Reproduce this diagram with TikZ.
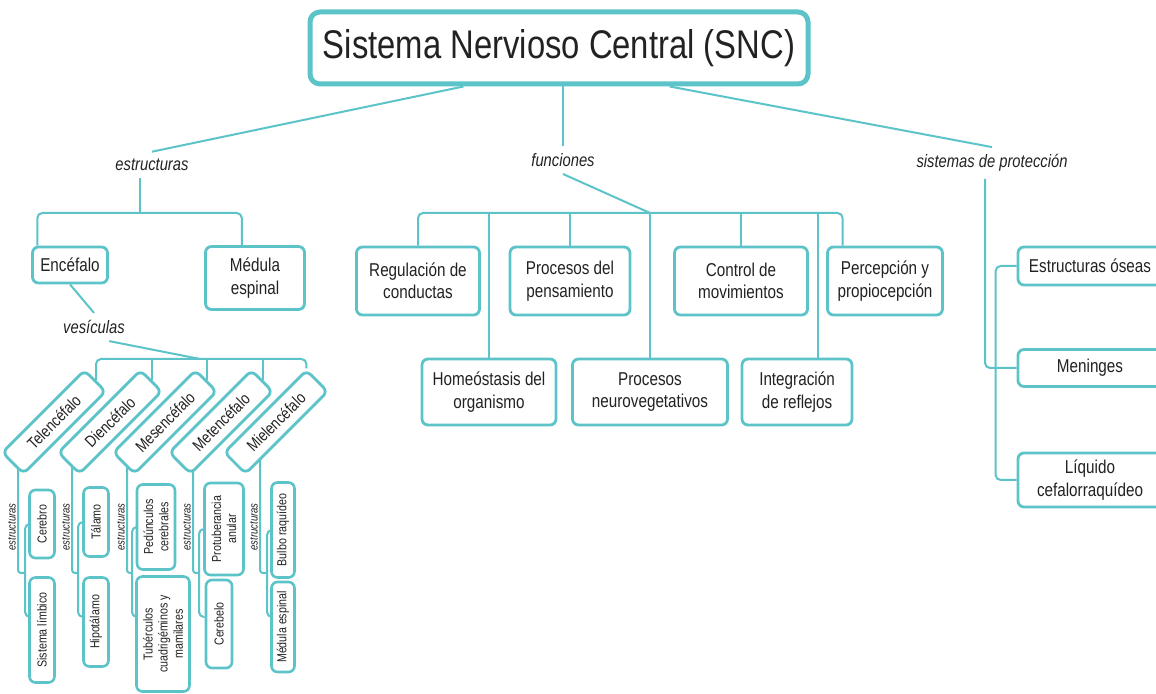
\documentclass[tikz,border=0pt]{standalone}
\usepackage{fontspec}
\setmainfont{Liberation Sans}[FakeStretch=0.82]
\usetikzlibrary{calc, backgrounds}
\definecolor{mapteal}{RGB}{92,196,201}
\definecolor{maptext}{RGB}{34,34,34}
\tikzset{
	box/.style={draw=mapteal, line width=1.4pt, rounded corners=3pt, fill=white, align=center,
		text=maptext, inner sep=1pt, font=\fontsize{9.3}{11.2}\selectfont},
	vbox/.style={box, rotate=45, minimum width=58pt, minimum height=15pt, font=\fontsize{8.2}{9}\selectfont},
	sbox/.style={box, rotate=90, line width=1.3pt, font=\fontsize{6.5}{7.6}\selectfont},
	lbl/.style={text=maptext, inner sep=3.5pt, font=\fontsize{9}{10}\selectfont\itshape},
	slbl/.style={text=maptext, inner sep=0pt, rotate=90, font=\fontsize{5.8}{6}\selectfont\itshape},
	link/.style={draw=mapteal, line width=1pt},
}

\begin{document}
\begin{tikzpicture}[x=0.5pt, y=-0.5pt]
		\useasboundingbox (0,0) rectangle (1156,694);
		\clip (0,0) rectangle (1156,694);
		
		%Title and branch labels
		\node[box, line width=2.5pt, rounded corners=5pt, minimum width=249pt, minimum height=36pt,
		font=\fontsize{20}{24}\selectfont] (snc) at (559,48) {Sistema Nervioso Central (SNC)};
		\node[lbl] (est) at (152,165) {estructuras};
		\node[lbl] (fun) at (563,160) {funciones};
		\node[lbl] (pro) at (992,163) {sistemas de protección};
		
		%Estructuras
		\node[box, minimum width=37.5pt, minimum height=18pt] (enc) at (70,265) {Encéfalo};
		\node[box, minimum width=49.5pt, minimum height=31.5pt] (med) at (255,278) {Médula\\espinal};
		\node[lbl] (ves) at (94,327) {vesículas};
		
		%Vesiculas
		\foreach \n/\t/\x in {tel/Telencéfalo/54, die/Diencéfalo/110, mes/Mesencéfalo/165,
			met/Metencéfalo/221, mie/Mielencéfalo/276}
		\node[vbox] (\n) at (\x,422) {\t};
		\foreach \n/\px in {tel/18, die/72, mes/127, met/193, mie/260}
		\node[slbl] (e\n) at (\px-6,527) {estructuras};
		
		\node[sbox, minimum width=34pt, minimum height=12.5pt] (cer) at (42,524) {Cerebro};
		\node[sbox, minimum width=52.5pt, minimum height=12.5pt] (lim) at (42,630) {Sistema límbico};
		\node[sbox, minimum width=34.5pt, minimum height=12.5pt] (tal) at (96,522) {Tálamo};
		\node[sbox, minimum width=44.5pt, minimum height=12.5pt] (hip) at (96,622) {Hipotálamo};
		\node[sbox, minimum width=42.5pt, minimum height=19pt] (ped) at (156,527) {Pedúnculos\\cerebrales};
		\node[sbox, minimum width=57.5pt, minimum height=26.5pt] (tub) at (163,634) {Tubérculos\\cuadrigéminos y\\mamilares};
		\node[sbox, minimum width=46pt, minimum height=19.5pt] (pru) at (224,529) {Protuberancia\\anular};
		\node[sbox, minimum width=44pt, minimum height=13pt] (cbl) at (219,624) {Cerebelo};
		\node[sbox, minimum width=47.5pt, minimum height=11.5pt] (bul) at (283,530) {Bulbo raquídeo};
		\node[sbox, minimum width=45pt, minimum height=11.5pt] (mee) at (283,627) {Médula espinal};
		
		%Funciones
		\node[box, minimum width=61.5pt, minimum height=34pt] (reg) at (418,281) {Regulación de\\conductas};
		\node[box, minimum width=60pt, minimum height=34pt] (pen) at (570,281) {Procesos del\\pensamiento};
		\node[box, minimum width=66.5pt, minimum height=34pt] (con) at (741,281) {Control de\\movimientos};
		\node[box, minimum width=57.5pt, minimum height=34pt] (per) at (885,281) {Percepción y\\propiocepción};
		\node[box, minimum width=67pt, minimum height=33pt] (hom) at (489,392) {Homeóstasis del\\organismo};
		\node[box, minimum width=77.5pt, minimum height=33pt] (neu) at (650,392) {Procesos\\neurovegetativos};
		\node[box, minimum width=55pt, minimum height=33pt] (int) at (797,392) {Integración\\de reflejos};
		
		%Sistemas de proteccion
		\node[box, minimum width=72pt, minimum height=19pt] (oss) at (1090,266) {Estructuras óseas};
		\node[box, minimum width=72pt, minimum height=18.5pt] (men) at (1090,368) {Meninges};
		\node[box, minimum width=72pt, minimum height=27pt] (liq) at (1090,480) {Líquido\\cefalorraquídeo};
		
		%Connectors
		\begin{pgfonlayer}{background}
			\fill[white] (0,0) rectangle (1156,694);
			\draw[link] ($(snc.south west)!0.31!(snc.south east)$) -- (est.north);
			\draw[link] (snc.south -| fun.north) -- (fun.north);
			\draw[link] ($(snc.south west)!0.72!(snc.south east)$) -- (pro.north);
			
			\coordinate (ej) at (140,213);
			\draw[link] (ej |- est.south) -- (ej);
			\draw[link, rounded corners=2.5pt] ($(enc.north west)!0.08!(enc.north east)$) |- (ej)
			-| ($(med.north west)!0.37!(med.north east)$);
			\draw[link] (enc.south) -- (ves.north);
			
			\coordinate (vj) at (200,359);
			\draw[link] ($(ves.south)!0.4!(ves.south east)$) -- (vj);
			\draw[link, rounded corners=2.5pt] (tel.east) |- (vj) -| (mie.north east);
			\foreach \n in {die,mes,met}
			\draw[link] (\n.east |- vj) -- (\n.east);
			
			\foreach \n/\x/\px/\bx/\a/\b in {tel/54/18/25/cer/lim, die/110/72/78/tal/hip,
				mes/165/127/132/ped/tub, met/221/193/199/pru/cbl, mie/276/260/267/bul/mee}{
				\draw[link, rounded corners=1.5pt] (\px,422+\x-\px) |- (\bx,573);
				\draw[link, rounded corners=2.5pt] (\a.north) -| (\bx,617) -- (\b.north |- \bx,617);
			}
			
			\coordinate (fj) at (650,213);
			\coordinate (intx) at ($(int.north west)!0.69!(int.north east)$);
			\draw[link] (fun.south) -- (fj);
			\draw[link, rounded corners=2.5pt] (reg.north) |- (fj) -| ($(per.north west)!0.14!(per.north east)$);
			\foreach \n in {hom,pen,neu,con}
			\draw[link] (\n.north |- fj) -- (\n.north);
			\draw[link] (intx |- fj) -- (intx);
			
			\draw[link, rounded corners=2.5pt] (pro.south) ++(-7,0) |- (men.west);
			\draw[link, rounded corners=2.5pt] (oss.west) -- ++(-21,0) |- (liq.west);
		\end{pgfonlayer}
		
\end{tikzpicture}
\end{document}
